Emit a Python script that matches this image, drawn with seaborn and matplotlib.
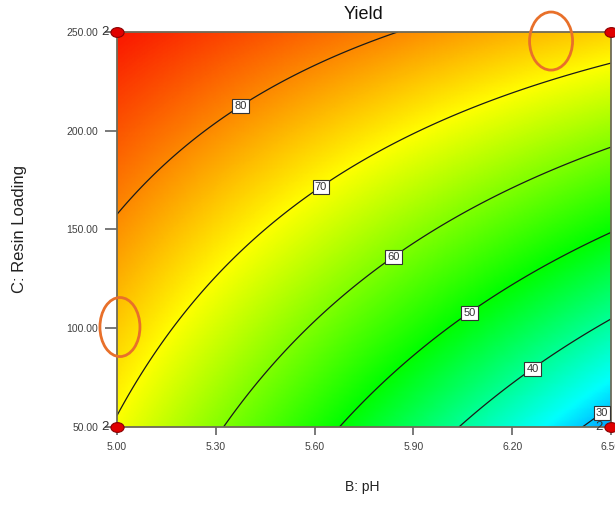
import numpy as np
import matplotlib
matplotlib.use("Agg")
import matplotlib.pyplot as plt
from matplotlib.colors import LinearSegmentedColormap
from matplotlib.patches import Ellipse
from matplotlib.path import Path
import matplotlib.transforms as mtransforms
import seaborn as sns

# Factor ranges (actual units)
ph_range = [5.00, 6.50]
resin_range = [50.0, 250.0]
x_ticks = [5.00, 5.30, 5.60, 5.90, 6.20, 6.50]
y_ticks = [50.0, 100.0, 150.0, 200.0, 250.0]

# Quadratic model for Yield in coded factors:
# intercept, B, C, BC, B^2, C^2
coef_names = ["Intercept", "B", "C", "BC", "B2", "C2"]
coef_values = [64.10, -14.44, 16.58, 6.42, 0.68, 0.40]

# Contour levels and where their labels sit (pH, resin loading)
contour_levels = [30, 40, 50, 60, 70, 80]
label_ph = [6.46, 6.254, 6.069, 5.841, 5.619, 5.37]
label_resin = [60.0, 81.4, 108.2, 136.0, 171.5, 214.0]

# Design points at the corners of this slice and their replicate counts
design_ph = [5.00, 5.00, 6.50, 6.50]
design_resin = [50.0, 250.0, 50.0, 250.0]
design_reps = ["2", "2", "2", ""]

# Highlight rings (centre pH, centre resin, width pH, height resin)
ring_ph = [5.009, 6.318]
ring_resin = [100.6, 245.4]
ring_w = [0.1215, 0.1306]
ring_h = [29.9, 29.4]

sns.set_style("white")
plt.rcParams["font.family"] = ["Liberation Sans", "DejaVu Sans"]


def yield_model(ph, resin):
    b = (ph - 5.75) / 0.75
    c = (resin - 150.0) / 100.0
    k = dict(zip(coef_names, coef_values))
    return (k["Intercept"] + k["B"] * b + k["C"] * c + k["BC"] * b * c
            + k["B2"] * b ** 2 + k["C2"] * c ** 2)


gx = np.linspace(ph_range[0], ph_range[1], 300)
gy = np.linspace(resin_range[0], resin_range[1], 300)
GX, GY = np.meshgrid(gx, gy)
GZ = yield_model(GX, GY)

# blue -> cyan -> green -> yellow -> red colour ramp
vmin, vmax = 25.0, 90.0
stops = [(25.0, (0.0, 0.45, 1.0)), (33.0, (0.0, 1.0, 1.0)),
         (50.0, (0.0, 1.0, 0.0)), (70.0, (1.0, 1.0, 0.0)),
         (90.0, (0.98, 0.08, 0.0))]
cmap = LinearSegmentedColormap.from_list(
    "de", [((v - vmin) / (vmax - vmin), col) for v, col in stops])

fig = plt.figure(figsize=(6.15, 5.14), dpi=100)
ax = fig.add_axes([0.1902, 0.1693, 0.8033, 0.7685])

ax.pcolormesh(GX, GY, GZ, cmap=cmap, vmin=vmin, vmax=vmax,
              shading="gouraud", rasterized=True)
cs = ax.contour(GX, GY, GZ, levels=contour_levels, colors="#1a1a1a",
                linewidths=0.9)
texts = ax.clabel(cs, fmt="%d", fontsize=8, inline=False,
                  manual=list(zip(label_ph, label_resin)))
for t in texts:
    t.set_rotation(0)
    t.set_color("#333333")
    t.set_bbox(dict(boxstyle="square,pad=0.18", fc="white",
                    ec="#333333", lw=0.8))
    t.set_zorder(5)

ax.set_xlim(ph_range)
ax.set_ylim(resin_range)
ax.set_xticks(x_ticks)
ax.set_yticks(y_ticks)
ax.set_xticklabels([f"{v:.2f}" for v in x_ticks])
ax.set_yticklabels([f"{v:.2f}" for v in y_ticks])
ax.tick_params(axis="x", direction="out", length=6, width=1.1,
               color="#555555", pad=5, labelsize=7.5, labelcolor="#404040",
               bottom=True)
ax.tick_params(axis="y", direction="out", length=9, width=1.1,
               color="#555555", pad=4.5, labelsize=7.5, labelcolor="#404040",
               left=True)
for sp in ax.spines.values():
    sp.set_visible(True)
    sp.set_color("#6e6a58")
    sp.set_linewidth(1.3)

ax.set_xlabel("B: pH", fontsize=10, color="#222222")
ax.xaxis.set_label_coords(0.496, -0.134)
ax.set_ylabel("C: Resin Loading", fontsize=12, color="#222222")
ax.yaxis.set_label_coords(-0.182, 0.5)
ax.text(0.5, 1.043, "Yield", transform=ax.transAxes, ha="center",
        va="center", fontsize=13, color="#111111")

# Design points drawn as slightly wide ellipses
circ = Path.unit_circle()
oval = circ.transformed(mtransforms.Affine2D().scale(1.35, 1.0))
sns.scatterplot(x=design_ph, y=design_resin, marker=oval, s=90,
                color="#e00000", edgecolor="#8a0000", linewidth=0.8,
                clip_on=False, zorder=6, ax=ax, legend=False)
for px, py, rep in zip(design_ph, design_resin, design_reps):
    if rep:
        off = mtransforms.offset_copy(ax.transData, fig=fig, x=-6, y=0,
                                      units="points")
        ax.text(px, py, rep, transform=off, ha="right", va="center",
                fontsize=9.5, color="#333333", clip_on=False, zorder=6)

for cx, cy, w, h in zip(ring_ph, ring_resin, ring_w, ring_h):
    ax.add_patch(Ellipse((cx, cy), w, h, fill=False, ec="#e8702a",
                         lw=2.0, clip_on=False, zorder=7))

fig.savefig("out.png", dpi=100)
